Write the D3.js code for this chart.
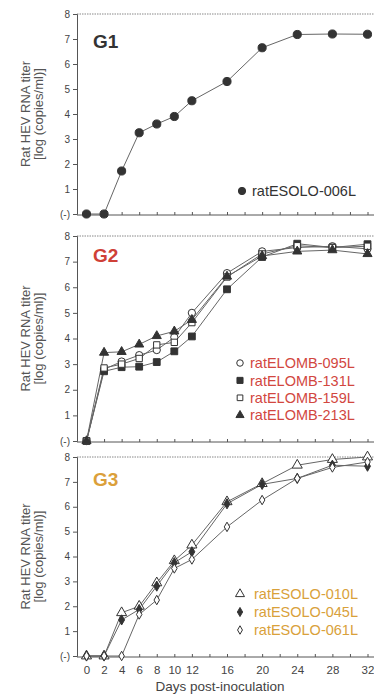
<!DOCTYPE html>
<html><head><meta charset="utf-8">
<script src="https://cdn.jsdelivr.net/npm/d3@7"></script>
<style>body{margin:0;background:#fff}svg{display:block}</style>
</head><body>
<svg id="c" width="374" height="695"></svg>
<script>
// ---- data ----
const days = [0, 2, 4, 6, 8, 10, 12, 16, 20, 24, 28, 32];
const xTickDays = [0, 2, 4, 6, 8, 10, 12, 14, 16, 18, 20, 22, 24, 26, 28, 30, 32];
const xTickLabels = [0, 2, 4, 6, 8, 10, 12, 16, 20, 24, 28, 32];
const yTickValues = [0, 1, 2, 3, 4, 5, 6, 7, 8];
const yTickLabels = ["(-)", "1", "2", "3", "4", "5", "6", "7", "8"];
const groupNames = ["G1", "G2", "G3"];

const g1_006L = [0, 0, 1.72, 3.25, 3.6, 3.9, 4.53, 5.3, 6.65, 7.18, 7.2, 7.19];

const g2_095L = [0, 2.8, 3.1, 3.35, 3.55, 4.05, 5.0, 6.55, 7.4, 7.55, 7.6, 7.5];
const g2_131L = [0, 2.72, 2.88, 2.9, 3.08, 3.5, 4.08, 5.92, 7.18, 7.7, 7.55, 7.68];
const g2_159L = [0, 2.85, 3.0, 3.22, 3.75, 3.85, 4.62, 6.4, 7.3, 7.62, 7.55, 7.6];
const g2_213L = [0, 3.45, 3.48, 3.77, 4.1, 4.28, 4.73, 6.42, 7.22, 7.4, 7.45, 7.3];

const g3_010L = [0, 0, 1.74, 2.0, 2.94, 3.83, 4.46, 6.2, 6.93, 7.67, 7.9, 8.0];
const g3_045L = [0, 0, 1.45, 1.87, 2.81, 3.75, 4.19, 6.12, 6.9, 7.14, 7.67, 7.63];
const g3_061L = [0, 0, 0, 1.67, 2.25, 3.52, 3.88, 5.19, 6.27, 7.14, 7.58, 7.8];

// ---- styles / layout ----
const panels = [
  {name: groupNames[0], top: 14, bottom: 214, color: "#333333", titleY: 48,
   legendX: 242, legendY: 191, legendStep: 17.5, textX: 252,
   series: [{label: "ratESOLO-006L", values: g1_006L, shape: "circle", fill: true, size: 52}]},
  {name: groupNames[1], top: 236, bottom: 441, color: "#cf4037", titleY: 262,
   legendX: 240, legendY: 363, legendStep: 17.4, textX: 250,
   series: [
     {label: "ratELOMB-095L", values: g2_095L, shape: "circle", fill: false, size: 42},
     {label: "ratELOMB-131L", values: g2_131L, shape: "square", fill: true, size: 46},
     {label: "ratELOMB-159L", values: g2_159L, shape: "square", fill: false, size: 40},
     {label: "ratELOMB-213L", values: g2_213L, shape: "triangle", fill: true, size: 36}]},
  {name: groupNames[2], top: 457, bottom: 656, color: "#dba03a", titleY: 486,
   legendX: 240, legendY: 594, legendStep: 18, textX: 254,
   series: [
     {label: "ratESOLO-010L", values: g3_010L, shape: "triangle", fill: false, size: 44},
     {label: "ratESOLO-045L", values: g3_045L, shape: "diamond", fill: true, size: 30},
     {label: "ratESOLO-061L", values: g3_061L, shape: "diamond", fill: false, size: 26}]}
];
const legendTextColors = ["#333333", "#d2473f", "#d9a13a"];
const shapes = {circle: d3.symbolCircle, square: d3.symbolSquare, triangle: d3.symbolTriangle, diamond: d3.symbolDiamond};

const svg = d3.select("#c");
const axisX = 77, rightX = 374;
const x = d3.scaleLinear().domain([0, 32]).range([86.5, 367.5]);
const font = "Arial, 'Liberation Sans', Helvetica, sans-serif";

panels.forEach((p, pi) => {
  const y = d3.scaleLinear().domain([0, 8]).range([p.bottom, p.top]);
  const g = svg.append("g");

  // top frame
  g.append("line").attr("x1", axisX).attr("x2", rightX).attr("y1", p.top).attr("y2", p.top)
    .attr("stroke", "#888").attr("stroke-width", 1).attr("stroke-dasharray", "1.5,1");

  // y axis
  const ya = d3.axisLeft(y).tickValues(yTickValues).tickSize(4).tickPadding(3)
    .tickFormat((d, i) => yTickLabels[i]);
  const yg = g.append("g").attr("transform", `translate(${axisX},0)`).call(ya);
  yg.select(".domain").attr("stroke", "#555");
  yg.selectAll(".tick line").attr("stroke", "#555");
  yg.selectAll(".tick text").attr("fill", "#444").style("font-family", font).style("font-size", "10px");

  // x axis
  const xa = d3.axisBottom(x).tickValues(xTickDays).tickSize(-3)
    .tickFormat(d => (pi === 2 && xTickLabels.includes(d)) ? d : "").tickPadding(9);
  const xg = g.append("g").attr("transform", `translate(0,${p.bottom + 1})`).call(xa);
  xg.select(".domain").attr("d", `M${axisX},0H${rightX}`).attr("stroke", "#555");
  xg.selectAll(".tick line").attr("stroke", "#555");
  xg.selectAll(".tick text").attr("fill", "#444").style("font-family", font).style("font-size", "11.5px");

  // y label
  const cy = (p.top + p.bottom) / 2;
  const yl = g.append("text").attr("transform", `translate(25,${cy}) rotate(-90)`)
    .attr("text-anchor", "middle").attr("fill", "#555").style("font-family", font).style("font-size", "13px");
  yl.append("tspan").attr("x", 0).attr("dy", "0.35em").text("Rat HEV RNA titer");
  yl.append("tspan").attr("x", 0).attr("dy", "1.05em").text("[log (copies/ml)]");

  // title
  g.append("text").attr("x", 93).attr("y", p.titleY).attr("fill", p.color)
    .style("font-family", font).style("font-size", "19px").style("font-weight", "bold").text(p.name);

  // lines
  const line = d3.line().x((d, i) => x(days[i])).y(d => y(d));
  p.series.forEach(s => {
    g.append("path").datum(s.values).attr("d", line).attr("fill", "none")
      .attr("stroke", "#666").attr("stroke-width", 1);
  });
  // markers
  p.series.forEach(s => {
    const sym = d3.symbol().type(shapes[s.shape]).size(s.size);
    g.selectAll(null).data(s.values).enter().append("path")
      .attr("d", sym)
      .attr("transform", (d, i) => `translate(${x(days[i])},${y(d)})`)
      .attr("fill", s.fill ? "#333" : "#fff").attr("stroke", "#333").attr("stroke-width", 1);
  });

  // legend
  p.series.forEach((s, si) => {
    const ly = p.legendY + si * p.legendStep;
    const sym = d3.symbol().type(shapes[s.shape]).size(s.size * 0.8);
    g.append("path").attr("d", sym).attr("transform", `translate(${p.legendX},${ly})`)
      .attr("fill", s.fill ? "#333" : "#fff").attr("stroke", "#333").attr("stroke-width", 1);
    g.append("text").attr("x", p.textX).attr("y", ly).attr("dy", "0.36em")
      .attr("fill", legendTextColors[pi]).style("font-family", font).style("font-size", "14.5px").text(s.label);
  });
});

// x axis title
svg.append("text").attr("x", 220).attr("y", 691).attr("text-anchor", "middle")
  .attr("fill", "#444").style("font-family", font).style("font-size", "13.5px").text("Days post-inoculation");
</script>
</body></html>
